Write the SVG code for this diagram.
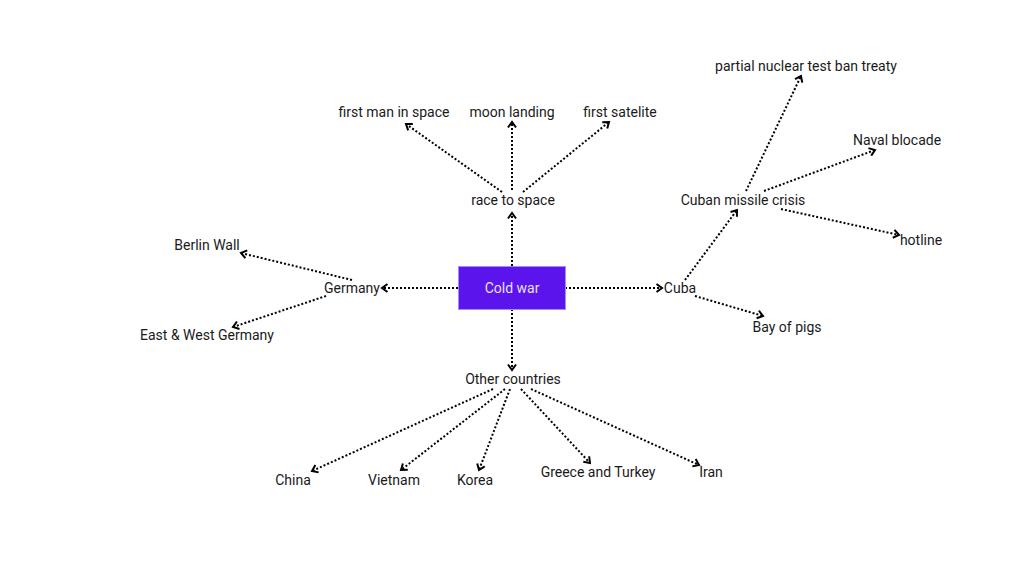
<svg xmlns="http://www.w3.org/2000/svg" width="1024" height="576" viewBox="0 0 1024 576">
<style>
.lbl{font-family:Roboto,"Liberation Sans",sans-serif;font-size:14px;fill:#1a1a1a;text-anchor:middle;dominant-baseline:central}
.c{stroke:#000;stroke-width:2;stroke-dasharray:2 2;fill:none;marker-end:url(#ah)}
</style>
<defs>
<marker id="ah" markerUnits="userSpaceOnUse" markerWidth="12" markerHeight="12" refX="7" refY="5" orient="auto">
<path d="M1.5,1 L7,5 L1.5,9" fill="none" stroke="#000" stroke-width="2"/>
</marker>
</defs>
<rect width="1024" height="576" fill="#fff"/>
<g id="connectors">
<line class="c" x1="512" y1="266" x2="512" y2="213"/>
<line class="c" x1="512" y1="190" x2="512" y2="122"/>
<line class="c" x1="502" y1="192" x2="406" y2="124"/>
<line class="c" x1="523" y1="192" x2="609" y2="122"/>
<line class="c" x1="458" y1="288" x2="382" y2="288"/>
<line class="c" x1="352" y1="280" x2="241" y2="253"/>
<line class="c" x1="326" y1="296" x2="233" y2="327"/>
<line class="c" x1="565" y1="288" x2="662" y2="288"/>
<line class="c" x1="685" y1="280" x2="737" y2="210"/>
<line class="c" x1="695" y1="296" x2="763" y2="316"/>
<line class="c" x1="746" y1="191" x2="801" y2="76"/>
<line class="c" x1="764" y1="191" x2="875" y2="150"/>
<line class="c" x1="781" y1="209" x2="899" y2="235"/>
<line class="c" x1="512" y1="309" x2="512" y2="370"/>
<line class="c" x1="493" y1="389" x2="312" y2="471"/>
<line class="c" x1="505" y1="389" x2="401" y2="470"/>
<line class="c" x1="510" y1="389" x2="479" y2="470"/>
<line class="c" x1="521" y1="389" x2="590" y2="463"/>
<line class="c" x1="531" y1="389" x2="699" y2="465"/>
</g>
<g id="cold-war">
<rect x="458.5" y="266.5" width="107" height="43" fill="#5b14ec" stroke="#a98af5" stroke-width="1"/>
<text class="lbl" x="512" y="288" style="fill:#e8e0ff">Cold war</text>
</g>
<g id="race-to-space"><text class="lbl" x="513" y="200">race to space</text></g>
<g id="first-man"><text class="lbl" x="394" y="112">first man in space</text></g>
<g id="moon-landing"><text class="lbl" x="512" y="112">moon landing</text></g>
<g id="first-satelite"><text class="lbl" x="620" y="112">first satelite</text></g>
<g id="germany"><text class="lbl" x="352" y="288">Germany</text></g>
<g id="berlin-wall"><text class="lbl" x="207" y="245">Berlin Wall</text></g>
<g id="east-west"><text class="lbl" x="207" y="335">East &amp; West Germany</text></g>
<g id="cuba"><text class="lbl" x="680" y="288">Cuba</text></g>
<g id="cuban-missile"><text class="lbl" x="743" y="200">Cuban missile crisis</text></g>
<g id="bay-of-pigs"><text class="lbl" x="787" y="327">Bay of pigs</text></g>
<g id="test-ban"><text class="lbl" x="806" y="66">partial nuclear test ban treaty</text></g>
<g id="naval"><text class="lbl" x="897" y="140">Naval blocade</text></g>
<g id="hotline"><text class="lbl" x="921" y="240">hotline</text></g>
<g id="other"><text class="lbl" x="513" y="379">Other countries</text></g>
<g id="china"><text class="lbl" x="293" y="480">China</text></g>
<g id="vietnam"><text class="lbl" x="394" y="480">Vietnam</text></g>
<g id="korea"><text class="lbl" x="475" y="480">Korea</text></g>
<g id="greece"><text class="lbl" x="598" y="472">Greece and Turkey</text></g>
<g id="iran"><text class="lbl" x="711" y="472">Iran</text></g>
</svg>
